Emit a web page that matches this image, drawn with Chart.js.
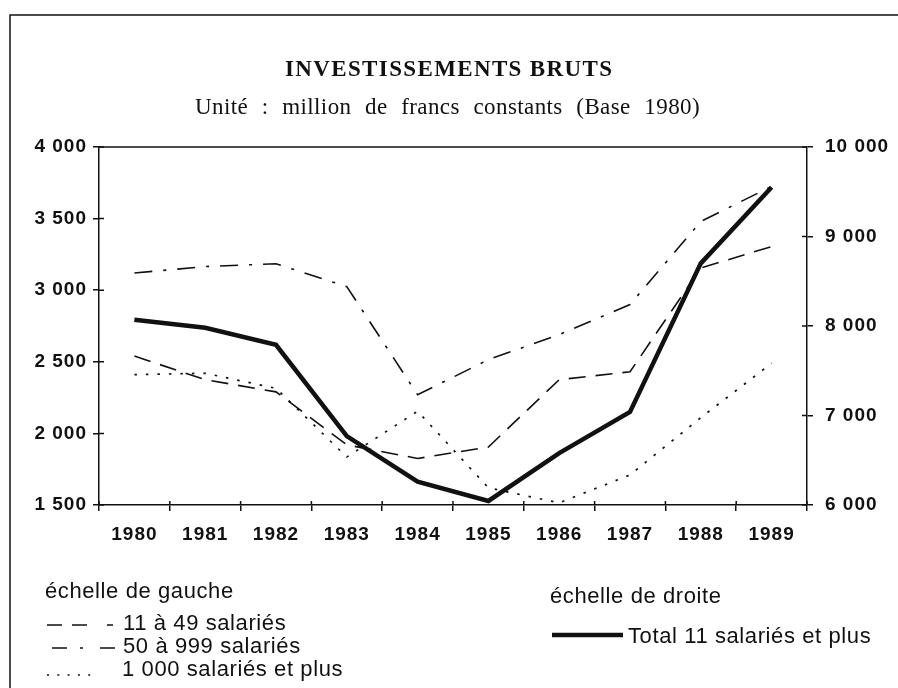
<!DOCTYPE html>
<html lang="fr">
<head>
<meta charset="utf-8">
<title>Investissements bruts</title>
<script src="https://cdn.jsdelivr.net/npm/chart.js@4.4.1/dist/chart.umd.min.js"></script>
<style>
  html, body { margin: 0; padding: 0; background: #fff; }
  canvas { display: block; }
</style>
</head>
<body>
<canvas id="invChart" width="898" height="688"></canvas>
<script>
// annees
const annees = ['1980', '1981', '1982', '1983', '1984', '1985', '1986', '1987', '1988', '1989'];

// echelle de gauche (million de francs)
const de11a49 = [2540, 2375, 2290, 1920, 1825, 1905, 2375, 2430, 3155, 3305];
const de50a999 = [3120, 3165, 3185, 3025, 2270, 2515, 2690, 2900, 3480, 3725];
const plusDe1000 = [2410, 2420, 2315, 1835, 2155, 1620, 1515, 1710, 2110, 2490];

// echelle de droite
const total11 = [8070, 7980, 7790, 6770, 6260, 6045, 6580, 7040, 8700, 9550];

const gaucheMin = 1500, gaucheMax = 4000, gaucheStep = 500;
const droiteMin = 6000, droiteMax = 10000, droiteStep = 1000;

const ink = '#111';
const sans = "'Liberation Sans', Arial, sans-serif";
const serif = "'Liberation Serif', 'Times New Roman', serif";

const dashes = {
  petites: [17, 10],
  moyennes: [18, 11, 3, 11],
  grandes: [2.5, 9]
};

function milliers(v) {
  return String(v).replace(/\B(?=(\d{3})+(?!\d))/g, ' ');
}

// texte etire sur une largeur donnee (espacement des lettres puis des mots)
function texteLarge(ctx, txt, x, y, largeur, ls) {
  ctx.letterSpacing = '0px';
  ctx.wordSpacing = '0px';
  const w = ctx.measureText(txt).width + ls * txt.length;
  const nbEsp = txt.split(' ').length - 1;
  const ws = nbEsp ? Math.max(0, (largeur - w) / nbEsp) : 0;
  ctx.letterSpacing = ls + 'px';
  ctx.wordSpacing = ws + 'px';
  ctx.fillText(txt, x, y);
  ctx.letterSpacing = '0px';
  ctx.wordSpacing = '0px';
}

// cadre, titres, legende, petites graduations vers l'interieur
const decor = {
  id: 'decor',
  beforeDraw(chart) {
    chart.ctx.letterSpacing = '1px';
  },
  afterDraw(chart) {
    const ctx = chart.ctx;
    const area = chart.chartArea;
    ctx.save();
    ctx.letterSpacing = '0px';
    ctx.strokeStyle = ink;
    ctx.fillStyle = ink;

    // cadre
    ctx.lineWidth = 1.5;
    ctx.beginPath();
    ctx.moveTo(10, chart.height);
    ctx.lineTo(10, 15);
    ctx.lineTo(chart.width, 15);
    ctx.stroke();

    // haut du graphique
    ctx.beginPath();
    ctx.moveTo(area.left, area.top);
    ctx.lineTo(area.right, area.top);
    ctx.stroke();

    // graduations
    const ys = chart.scales.y, yd = chart.scales.y1, xs = chart.scales.x;
    ctx.beginPath();
    ys.ticks.forEach((t, i) => {
      const py = ys.getPixelForTick(i);
      ctx.moveTo(area.left, py); ctx.lineTo(area.left + 5, py);
    });
    yd.ticks.forEach((t, i) => {
      const py = yd.getPixelForTick(i);
      ctx.moveTo(area.right - 5, py); ctx.lineTo(area.right, py);
    });
    const pas = xs.getPixelForTick(1) - xs.getPixelForTick(0);
    for (let i = 0; i <= annees.length; i++) {
      const px = xs.getPixelForTick(0) - pas / 2 + i * pas;
      ctx.moveTo(px, area.bottom - 4); ctx.lineTo(px, area.bottom);
    }
    ctx.stroke();

    // titres
    ctx.textAlign = 'left';
    ctx.textBaseline = 'alphabetic';
    ctx.font = 'bold 23px ' + serif;
    const titre = 'INVESTISSEMENTS BRUTS';
    const wt = ctx.measureText(titre).width;
    ctx.letterSpacing = Math.max(0, (327 - wt) / (titre.length - 1)) + 'px';
    ctx.fillText(titre, 285, 76);
    ctx.letterSpacing = '0px';

    ctx.font = '23px ' + serif;
    texteLarge(ctx, 'Unité : million de francs constants (Base 1980)', 195, 114, 505, 0.4);

    // legende
    ctx.font = '22px ' + sans;
    ctx.letterSpacing = '0.6px';
    ctx.fillText('échelle de gauche', 45, 598);
    ctx.fillText('11 à 49 salariés', 123, 630);
    ctx.fillText('50 à 999 salariés', 123, 653);
    ctx.fillText('1 000 salariés et plus', 122, 676);
    ctx.fillText('échelle de droite', 550, 603);
    ctx.fillText('Total 11 salariés et plus', 628, 643);

    function echantillon(x0, x1, y, dash, w) {
      ctx.beginPath();
      ctx.setLineDash(dash);
      ctx.lineWidth = w;
      ctx.moveTo(x0, y); ctx.lineTo(x1, y);
      ctx.stroke();
    }
    echantillon(47, 114, 625, [15, 10, 15, 20, 6, 20], 1.5);
    echantillon(52, 116, 648, [15, 13, 3, 17, 15, 20], 1.5);
    echantillon(47, 92, 675, [2, 8.3], 1.6);
    echantillon(552, 623, 635, [], 4.5);
    ctx.setLineDash([]);
    ctx.restore();
  }
};

const tickFont = { family: sans, size: 19, weight: 'bold' };

new Chart(document.getElementById('invChart'), {
  type: 'line',
  data: {
    labels: annees,
    datasets: [
      {
        label: '11 à 49 salariés',
        data: de11a49,
        yAxisID: 'y',
        borderColor: ink,
        borderWidth: 1.6,
        borderDash: dashes.petites
      },
      {
        label: '50 à 999 salariés',
        data: de50a999,
        yAxisID: 'y',
        borderColor: ink,
        borderWidth: 1.6,
        borderDash: dashes.moyennes
      },
      {
        label: '1 000 salariés et plus',
        data: plusDe1000,
        yAxisID: 'y',
        borderColor: ink,
        borderWidth: 1.7,
        borderDash: dashes.grandes
      },
      {
        label: 'Total 11 salariés et plus',
        data: total11,
        yAxisID: 'y1',
        borderColor: ink,
        borderWidth: 4.5
      }
    ]
  },
  options: {
    responsive: false,
    animation: false,
    devicePixelRatio: 1,
    layout: { padding: { top: 147 } },
    elements: {
      point: { radius: 0 },
      line: { tension: 0, borderJoinStyle: 'miter', borderCapStyle: 'butt' }
    },
    plugins: {
      legend: { display: false },
      title: { display: false },
      tooltip: { enabled: false }
    },
    scales: {
      x: {
        offset: true,
        grid: { offset: true, drawOnChartArea: false, color: ink, lineWidth: 1.5, tickLength: 6 },
        border: { color: ink, width: 1.5 },
        ticks: { font: tickFont, color: ink, padding: 12, maxRotation: 0, autoSkip: false },
        afterFit(scale) { scale.height = 688 - 505; }
      },
      y: {
        position: 'left',
        min: gaucheMin,
        max: gaucheMax,
        grid: { drawOnChartArea: false, color: ink, lineWidth: 1.5, tickLength: 6 },
        border: { color: ink, width: 1.5 },
        ticks: { stepSize: gaucheStep, font: tickFont, color: ink, padding: 6, callback: v => milliers(v) },
        afterFit(scale) { scale.width = 99; }
      },
      y1: {
        position: 'right',
        min: droiteMin,
        max: droiteMax,
        grid: { drawOnChartArea: false, color: ink, lineWidth: 1.5, tickLength: 6 },
        border: { color: ink, width: 1.5 },
        ticks: { stepSize: droiteStep, font: tickFont, color: ink, padding: 12, callback: v => milliers(v) },
        afterFit(scale) { scale.width = 898 - 807; }
      }
    }
  },
  plugins: [decor]
});
</script>
</body>
</html>
